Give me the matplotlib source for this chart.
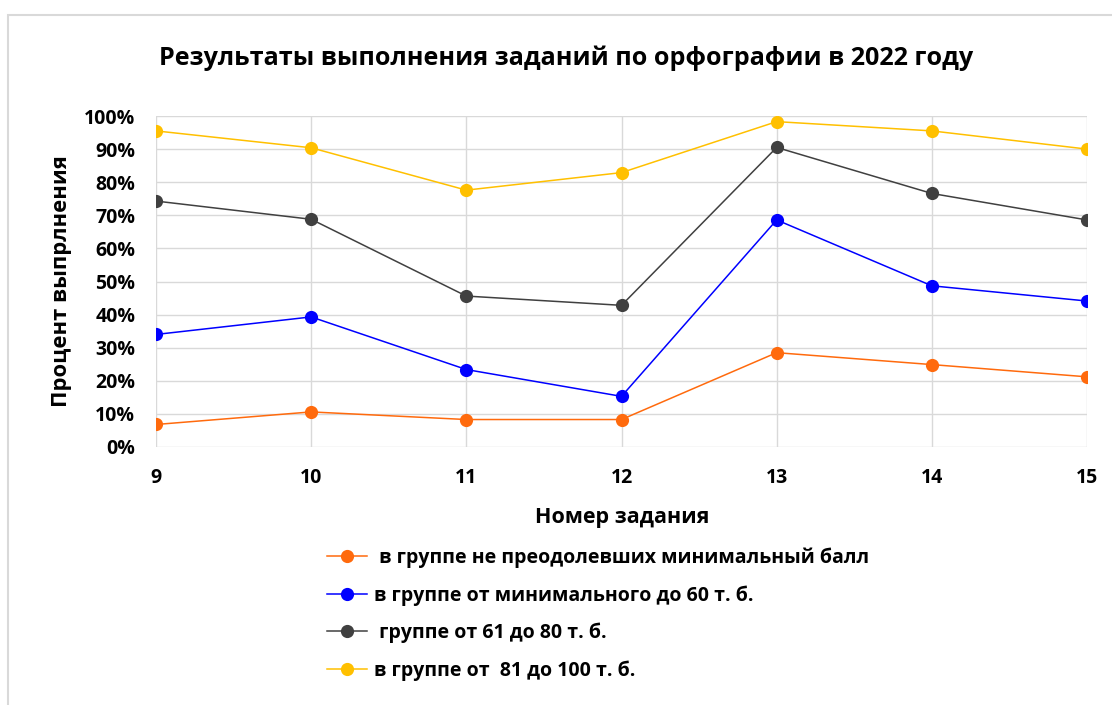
import matplotlib
matplotlib.use("Agg")
import matplotlib.pyplot as plt
from matplotlib.patches import Rectangle
from matplotlib.ticker import FuncFormatter

plt.rcParams['font.family'] = ['Open Sans', 'DejaVu Sans']

tasks = [9, 10, 11, 12, 13, 14, 15]
s_below_min = [6.8, 10.6, 8.3, 8.3, 28.5, 24.9, 21.2]
s_min_60 = [34.0, 39.3, 23.4, 15.3, 68.6, 48.7, 44.1]
s_61_80 = [74.3, 68.8, 45.6, 42.8, 90.5, 76.6, 68.6]
s_81_100 = [95.5, 90.4, 77.6, 82.9, 98.3, 95.5, 90.0]

labels = [" в группе не преодолевших минимальный балл",
          "в группе от минимального до 60 т. б.",
          " группе от 61 до 80 т. б.",
          "в группе от  81 до 100 т. б."]
colors = ["#FF6A0D", "#0000FF", "#404040", "#FFC000"]
series = [s_below_min, s_min_60, s_61_80, s_81_100]

title = "Результаты выполнения заданий по орфографии в 2022 году"
xlabel = "Номер задания"
ylabel = "Процент выпрлнения"

W, H = 1112, 705
fig = plt.figure(figsize=(W / 100, H / 100), dpi=100)
fig.patch.set_facecolor("white")
# chart frame border
fig.add_artist(Rectangle((8 / W, -0.05), 1.2, 1 - 15 / H + 0.05,
                         transform=fig.transFigure, fill=False,
                         edgecolor="#D9D9D9", linewidth=1.5))

ax = fig.add_axes([156 / W, 1 - 447 / H, (1087 - 156) / W, (447 - 116) / H])
handles = []
for vals, c, lab in zip(series, colors, labels):
    h, = ax.plot(tasks, vals, color=c, linewidth=1.1, marker="o",
                 markersize=9.5, markeredgewidth=0, label=lab, zorder=3)
    handles.append(h)

ax.set_xlim(9, 15)
ax.set_ylim(0, 100)
ax.set_xticks(tasks)
ax.set_yticks(range(0, 101, 10))
ax.yaxis.set_major_formatter(FuncFormatter(lambda v, p: f"{int(v)}%"))
ax.grid(True, color="#D9D9D9", linewidth=1.0, zorder=0)
for s in ax.spines.values():
    s.set_visible(False)
ax.tick_params(length=0)
for lbl in ax.get_xticklabels() + ax.get_yticklabels():
    lbl.set_fontsize(14)
    lbl.set_fontweight("bold")
ax.tick_params(axis="x", pad=15)
ax.tick_params(axis="y", pad=15)

fig.text(622 / W, 1 - 517 / H, xlabel, ha="center", va="center",
         fontsize=15.5, fontweight="bold")
fig.text(62 / W, 1 - 281 / H, ylabel, ha="center", va="center",
         rotation=90, fontsize=15.8, fontweight="bold")
fig.text(566 / W, 1 - 58 / H, title, ha="center", va="center",
         fontsize=18.1, fontweight="bold")

leg = fig.legend(handles=handles, loc="upper left",
                 bbox_to_anchor=(309 / W, 1 - 530 / H),
                 frameon=False, prop={"size": 14, "weight": "bold"},
                 handlelength=2.1, labelspacing=0.88, handletextpad=0.35)

fig.savefig("out.png", dpi=100)
